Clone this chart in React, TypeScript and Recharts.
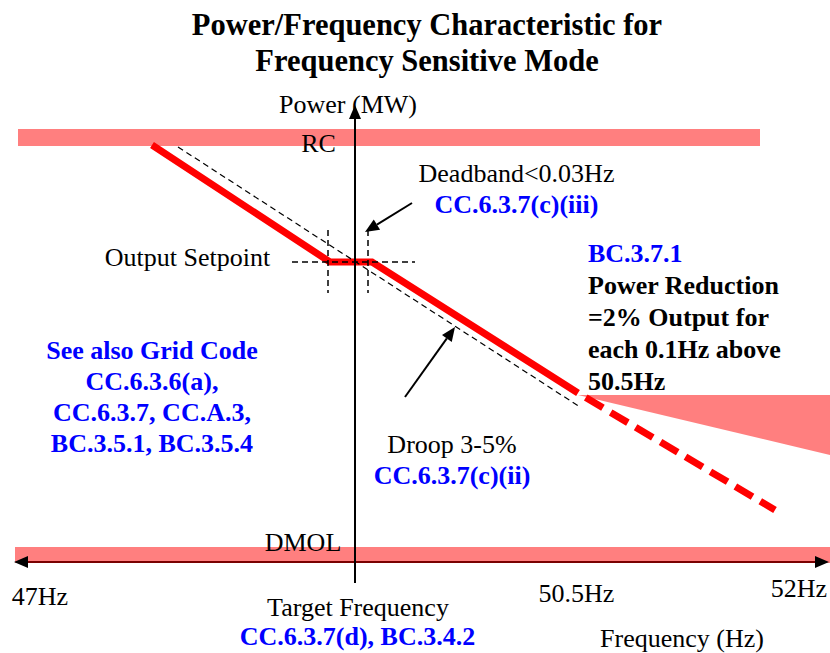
import React from 'react';
import { ComposedChart, Line, Area, XAxis, YAxis, ReferenceArea, ReferenceLine } from 'recharts';

// sketch units: x runs left to right across the diagram, y runs top to bottom
const characteristic = [
  { x: 152, y: 145 },
  { x: 330, y: 262 },
  { x: 372, y: 262 },
  { x: 578, y: 393 },
];
const highFreqReduction = [
  { x: 578, y: 393 },
  { x: 775, y: 510 },
];
const droopReference = [
  { x: 178, y: 147 },
  { x: 580, y: 407 },
];
const reductionWedge = [
  { x: 578, band: [395, 395] },
  { x: 830, band: [395, 455] },
];
const freqAxis = [
  { x: 14, y: 562 },
  { x: 829, y: 562 },
];
const rcLevel = [129, 146];
const rcSpan = [18, 760];
const dmolLevel = [547, 563];
const dmolSpan = [15, 830];
const targetFreq = 355;
const powerAxisSpan = [583, 105];
const deadband = [328, 368];
const deadbandSpan = [230, 293];
const setpoint = 262;
const setpointSpan = [292, 415];
const deadbandArrow = [{ x: 412, y: 203 }, { x: 365, y: 232 }];
const droopArrow = [{ x: 405, y: 397 }, { x: 455, y: 327 }];

const SERIF = '"Liberation Serif", "Times New Roman", serif';
const BLUE = '#0000FF';

const arrow = (width: number, both = false, color = '#000') => (props: any) => {
  const { x1, y1, x2, y2 } = props;
  const len = 14;
  const half = 6;
  const dx = x2 - x1;
  const dy = y2 - y1;
  const d = Math.hypot(dx, dy) || 1;
  const ux = dx / d;
  const uy = dy / d;
  const px = -uy * half;
  const py = ux * half;
  const bx = x2 - ux * len;
  const by = y2 - uy * len;
  const sx = both ? x1 + ux * len : x1;
  const sy = both ? y1 + uy * len : y1;
  return (
    <g>
      <line x1={sx} y1={sy} x2={bx} y2={by} stroke={color} strokeWidth={width} />
      <polygon points={`${x2},${y2} ${bx + px},${by + py} ${bx - px},${by - py}`} fill="#000" />
      {both && (
        <polygon points={`${x1},${y1} ${sx + px},${sy + py} ${sx - px},${sy - py}`} fill="#000" />
      )}
    </g>
  );
};

type TxtProps = {
  x: number;
  cy: number;
  lh?: number;
  size?: number;
  bold?: boolean;
  color?: string;
  align?: 'center' | 'left';
  lines: string[];
};

const Txt = ({ x, cy, lh = 30, size = 26, bold, color = '#000', align = 'center', lines }: TxtProps) => (
  <div
    style={{
      position: 'absolute',
      left: x,
      top: cy - lh / 2,
      transform: align === 'center' ? 'translateX(-50%)' : undefined,
      textAlign: align,
      whiteSpace: 'nowrap',
      fontFamily: SERIF,
      fontSize: size,
      lineHeight: `${lh}px`,
      fontWeight: bold ? 'bold' : 'normal',
      color,
    }}
  >
    {lines.map((l) => (
      <div key={l}>{l}</div>
    ))}
  </div>
);

export default function App() {
  return (
    <div style={{ position: 'absolute', left: 0, top: 0, width: 830, height: 653, background: '#fff' }}>
      <ComposedChart width={830} height={653} margin={{ top: 0, right: 0, bottom: 0, left: 0 }}>
        <XAxis type="number" dataKey="x" domain={[0, 830]} hide />
        <YAxis type="number" domain={[0, 653]} reversed hide />

        <ReferenceArea x1={rcSpan[0]} x2={rcSpan[1]} y1={rcLevel[0]} y2={rcLevel[1]} fill="#FF0000" fillOpacity={0.5} stroke="none" />
        <ReferenceArea x1={dmolSpan[0]} x2={dmolSpan[1]} y1={dmolLevel[0]} y2={dmolLevel[1]} fill="#FF0000" fillOpacity={0.5} stroke="none" />

        <Area
          data={reductionWedge}
          dataKey="band"
          type="linear"
          stroke="none"
          fill="#FF0000"
          fillOpacity={0.5}
          dot={false}
          activeDot={false}
          isAnimationActive={false}
        />
        <Line
          data={characteristic}
          dataKey="y"
          type="linear"
          stroke="#FF0000"
          strokeWidth={7}
          dot={false}
          activeDot={false}
          isAnimationActive={false}
        />
        <Line
          data={highFreqReduction}
          dataKey="y"
          type="linear"
          stroke="#FF0000"
          strokeWidth={7}
          strokeDasharray="20 9"
          strokeDashoffset={20}
          dot={false}
          activeDot={false}
          isAnimationActive={false}
        />
        <Line
          data={droopReference}
          dataKey="y"
          type="linear"
          stroke="#000"
          strokeWidth={1.2}
          strokeDasharray="6 4"
          dot={false}
          activeDot={false}
          isAnimationActive={false}
        />

        <ReferenceLine
          ifOverflow="visible"
          segment={freqAxis}
          shape={arrow(2, true, '#7A0000')}
        />
        {deadband.map((d) => (
          <ReferenceLine
            key={d}
            ifOverflow="visible"
            segment={[{ x: d, y: deadbandSpan[0] }, { x: d, y: deadbandSpan[1] }]}
            stroke="#000"
            strokeWidth={1.5}
            strokeDasharray="6 4"
          />
        ))}
        <ReferenceLine
          ifOverflow="visible"
          segment={[{ x: setpointSpan[0], y: setpoint }, { x: setpointSpan[1], y: setpoint }]}
          stroke="#000"
          strokeWidth={1.5}
          strokeDasharray="6 4"
        />

        <ReferenceLine
          ifOverflow="visible"
          segment={[{ x: targetFreq, y: powerAxisSpan[0] }, { x: targetFreq, y: powerAxisSpan[1] }]}
          shape={arrow(2)}
        />
        <ReferenceLine ifOverflow="visible" segment={deadbandArrow} shape={arrow(2)} />
        <ReferenceLine ifOverflow="visible" segment={droopArrow} shape={arrow(2)} />
      </ComposedChart>

      <Txt x={427} cy={25} lh={36.5} size={30.5} bold lines={['Power/Frequency Characteristic for', 'Frequency Sensitive Mode']} />
      <Txt x={348} cy={104.5} lines={['Power (MW)']} />
      <Txt x={318.5} cy={144} lines={['RC']} />
      <Txt x={516.5} cy={173.5} lines={['Deadband<0.03Hz']} />
      <Txt x={516.5} cy={205} bold color={BLUE} lines={['CC.6.3.7(c)(iii)']} />
      <Txt x={187.5} cy={258} lines={['Output Setpoint']} />
      <Txt x={588} cy={254} bold color={BLUE} align="left" lines={['BC.3.7.1']} />
      <Txt
        x={588}
        cy={286}
        lh={32}
        bold
        align="left"
        lines={['Power Reduction', '=2% Output for', 'each 0.1Hz above', '50.5Hz']}
      />
      <Txt
        x={152}
        cy={350}
        lh={31}
        bold
        color={BLUE}
        lines={['See also Grid Code', 'CC.6.3.6(a),', 'CC.6.3.7, CC.A.3,', 'BC.3.5.1, BC.3.5.4']}
      />
      <Txt x={452} cy={445} lines={['Droop 3-5%']} />
      <Txt x={452} cy={476} bold color={BLUE} lines={['CC.6.3.7(c)(ii)']} />
      <Txt x={303} cy={543} lines={['DMOL']} />
      <Txt x={40} cy={597} lines={['47Hz']} />
      <Txt x={576.5} cy={594} lines={['50.5Hz']} />
      <Txt x={799} cy={589} lines={['52Hz']} />
      <Txt x={358} cy={608} lh={22} lines={['Target Frequency']} />
      <Txt x={357.5} cy={637} lh={24} bold color={BLUE} lines={['CC.6.3.7(d), BC.3.4.2']} />
      <Txt x={682} cy={639} lh={24} lines={['Frequency (Hz)']} />
    </div>
  );
}
